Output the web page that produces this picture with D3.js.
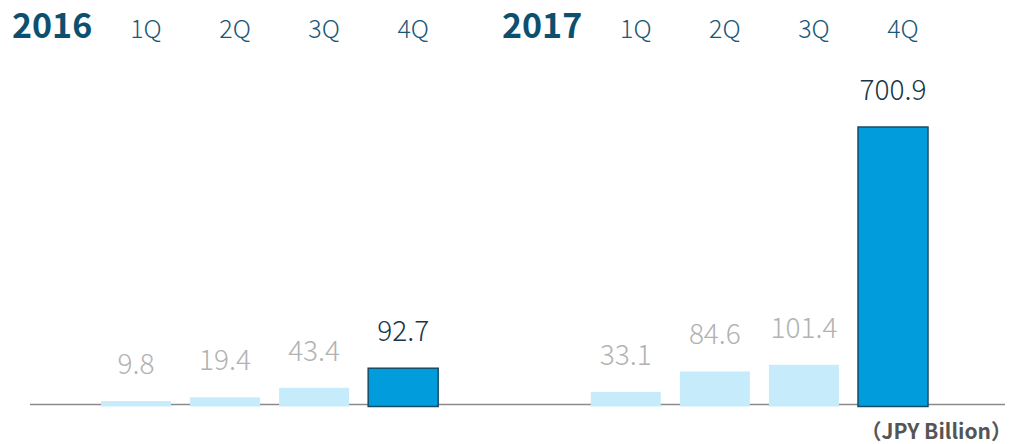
<!DOCTYPE html>
<html>
<head>
<meta charset="utf-8">
<script src="https://cdn.jsdelivr.net/npm/d3@7"></script>
<style>
  body { margin: 0; background: #fff; }
  svg { display: block; font-family: "Noto Sans CJK JP", "Noto Sans", sans-serif; }
</style>
</head>
<body>
<svg id="chart" width="1024" height="444"></svg>
<script>
// data
const years = ["2016", "2017"];
const quarters = ["1Q", "2Q", "3Q", "4Q"];
const values2016 = [9.8, 19.4, 43.4, 92.7];
const values2017 = [33.1, 84.6, 101.4, 700.9];
const unitLabel = "（JPY Billion）";

const svg = d3.select("#chart");
const baseY = 405;
const barW = 70;

// slot positions: 2016 quarters at 0..3, 2017 quarters at 5.5..8.5
const yearOffset = [0, 5.5];
const x = d3.scaleLinear().domain([0, 8.5]).range([101, 858]);
const y = d3.scaleLinear().domain([0, 700.9]).range([baseY, 127]);

const bars = [];
years.forEach((yr, i) => {
    const vals = i === 0 ? values2016 : values2017;
    vals.forEach((v, j) => {
        bars.push({year: yr, q: quarters[j], value: v, slot: yearOffset[i] + j, hi: j === 3});
    });
});

// baseline
svg.append("line")
   .attr("x1", 30).attr("x2", 1005)
   .attr("y1", baseY - 0.5).attr("y2", baseY - 0.5)
   .attr("stroke", "#8a8a8a").attr("stroke-width", 1.3);

// bars
svg.selectAll("rect.bar")
   .data(bars)
   .enter()
   .append("rect")
   .attr("class", "bar")
   .attr("x", d => x(d.slot))
   .attr("y", d => y(d.value))
   .attr("width", barW)
   .attr("height", d => baseY + 1.5 - y(d.value))
   .attr("fill", d => d.hi ? "#009cdc" : "#c6ecfb")
   .attr("stroke", d => d.hi ? "#174b68" : "none")
   .attr("stroke-width", 1.5);

// value labels
svg.selectAll("text.val")
   .data(bars)
   .enter()
   .append("text")
   .attr("class", "val")
   .attr("x", d => x(d.slot) + barW / 2)
   .attr("y", d => y(d.value) - 27)
   .attr("text-anchor", "middle")
   .attr("font-size", 28)
   .attr("font-weight", 300)
   .attr("fill", d => d.hi ? "#17364b" : "#b2b2b2")
   .text(d => d.value.toFixed(1));

// header: year + quarter labels
years.forEach((yr, i) => {
    svg.append("text")
       .attr("x", i === 0 ? 12 : 502)
       .attr("y", 38)
       .attr("font-size", 34)
       .attr("font-weight", 700)
       .attr("fill", "#0d4f6e")
       .text(yr);
});

svg.selectAll("text.q")
   .data(bars)
   .enter()
   .append("text")
   .attr("class", "q")
   .attr("x", d => x(d.slot) + barW / 2 + 10)
   .attr("y", 38)
   .attr("text-anchor", "middle")
   .attr("font-size", 25)
   .attr("font-weight", 300)
   .attr("fill", "#1a5877")
   .text(d => d.q);

// unit label
svg.append("text")
   .attr("x", 1012)
   .attr("y", 439)
   .attr("text-anchor", "end")
   .attr("font-size", 21)
   .attr("font-weight", 700)
   .attr("fill", "#555")
   .text(unitLabel);
</script>
</body>
</html>
